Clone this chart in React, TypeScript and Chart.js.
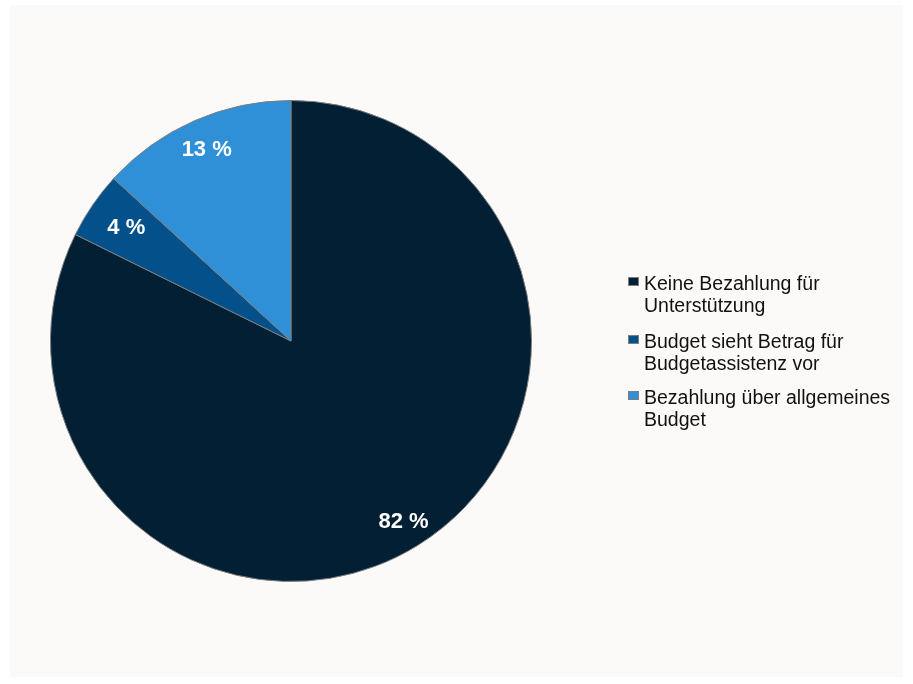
import React, { useEffect, useRef } from "react";
import { Chart, registerables } from "chart.js";

Chart.register(...registerables);

const categories: string[][] = [
  ["Keine Bezahlung für", "Unterstützung"],
  ["Budget sieht Betrag für", "Budgetassistenz vor"],
  ["Bezahlung über allgemeines", "Budget"],
];
const shares: number[] = [82.3, 4.5, 13.2];
const sliceLabels: string[] = ["82 %", "4 %", "13 %"];
const colors: string[] = ["#021f33", "#03508a", "#2f90d8"];

const labelRadiusFrac = [0.887, 0.83, 0.87];

const sliceLabelPlugin = {
  id: "sliceLabels",
  afterDatasetsDraw(chart: any) {
    const ctx = chart.ctx;
    const meta = chart.getDatasetMeta(0);
    ctx.save();
    ctx.font = "bold 22px 'Liberation Sans', Arial, sans-serif";
    ctx.fillStyle = "#ffffff";
    ctx.textAlign = "center";
    ctx.textBaseline = "middle";
    meta.data.forEach((arc: any, i: number) => {
      const { x, y, startAngle, endAngle, outerRadius } = arc.getProps(
        ["x", "y", "startAngle", "endAngle", "outerRadius"],
        true
      );
      const mid = (startAngle + endAngle) / 2;
      const r = outerRadius * labelRadiusFrac[i];
      ctx.fillText(sliceLabels[i], x + Math.cos(mid) * r, y + Math.sin(mid) * r);
    });
    ctx.restore();
  },
};

export default function App() {
  const canvasRef = useRef<HTMLCanvasElement | null>(null);

  useEffect(() => {
    if (!canvasRef.current) return;
    const chart = new Chart(canvasRef.current, {
      type: "pie",
      data: {
        labels: categories.map((c) => c.join(" ")),
        datasets: [
          {
            data: shares,
            backgroundColor: colors,
            borderColor: "#7d7d7d",
            borderWidth: 1,
          },
        ],
      },
      options: {
        responsive: false,
        animation: false,
        layout: { padding: { left: 50, top: 100, right: 381, bottom: 102 } },
        plugins: {
          legend: { display: false },
          tooltip: { enabled: false },
        },
      },
      plugins: [sliceLabelPlugin],
    });
    return () => chart.destroy();
  }, []);

  const legendTops = [272, 330, 386];

  return (
    <div style={{ position: "fixed", left: 0, top: 0, width: 913, height: 684, background: "#ffffff" }}>
      <div style={{ position: "absolute", left: 10, top: 5, width: 893, height: 672, background: "#fbfaf8" }} />
      <canvas ref={canvasRef} width={913} height={684} style={{ position: "absolute", left: 0, top: 0 }} />
      {categories.map((lines, i) => (
        <div
          key={i}
          style={{
            position: "absolute",
            left: 628,
            top: legendTops[i],
            fontFamily: "'Liberation Sans', Arial, sans-serif",
            fontSize: 19.5,
            lineHeight: "22px",
            color: "#111111",
            whiteSpace: "nowrap",
          }}
        >
          <span
            style={{
              position: "absolute",
              left: 0,
              top: 5,
              width: 9,
              height: 7,
              background: colors[i],
              border: "1px solid #7d7d7d",
            }}
          />
          <div style={{ marginLeft: 16 }}>
            {lines.map((l, j) => (
              <div key={j}>{l}</div>
            ))}
          </div>
        </div>
      ))}
    </div>
  );
}
